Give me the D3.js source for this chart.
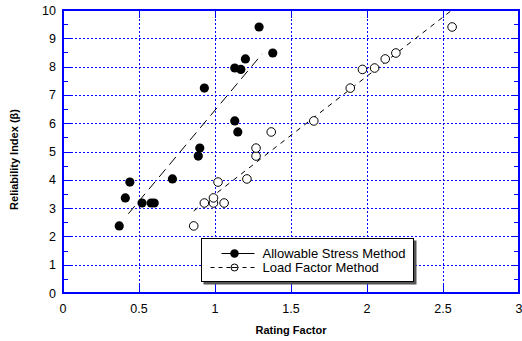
<!DOCTYPE html>
<html>
<head>
<meta charset="utf-8">
<script src="https://cdn.jsdelivr.net/npm/d3@7"></script>
<style>
  body { margin: 0; background: #fff; }
  svg { display: block; font-family: Arial, "Liberation Sans", sans-serif; }
  .tick-label { font-size: 12.5px; fill: #000; }
  .axis-title { font-size: 11px; font-weight: bold; fill: #000; }
  .legend-text { font-size: 13px; fill: #000; }
</style>
</head>
<body>
<div id="chart"></div>
<script>
// Allowable Stress Method (filled)
var asmX = [0.37, 0.41, 0.44, 0.52, 0.58, 0.60, 0.72, 0.89, 0.90, 0.93, 1.13, 1.15, 1.13, 1.17, 1.20, 1.29, 1.38];
var asmY = [2.37, 3.36, 3.92, 3.18, 3.18, 3.18, 4.03, 4.84, 5.12, 7.24, 6.08, 5.69, 7.95, 7.90, 8.27, 9.40, 8.48];

// Load Factor Method (open)
var lfmX = [0.86, 0.93, 0.99, 0.99, 1.02, 1.06, 1.21, 1.27, 1.27, 1.37, 1.65, 1.89, 1.97, 2.05, 2.12, 2.19, 2.56];
var lfmY = [2.37, 3.18, 3.18, 3.36, 3.92, 3.18, 4.03, 4.84, 5.12, 5.69, 6.08, 7.24, 7.90, 7.95, 8.27, 8.48, 9.40];

// trend line end points
var asmLineX = [0.43, 1.31];
var asmLineY = [2.80, 8.45];
var lfmLineX = [0.86, 2.56];
var lfmLineY = [2.90, 10.0];

var xTicks = [0, 0.5, 1, 1.5, 2, 2.5, 3];
var xTickLabels = ['0', '0.5', '1', '1.5', '2', '2.5', '3'];
var yTicks = [0, 1, 2, 3, 4, 5, 6, 7, 8, 9, 10];
var legendLabels = ['Allowable Stress Method', 'Load Factor Method'];

var width = 522, height = 341;
var margin = {left: 63, right: 3, top: 10, bottom: 48};
var plotW = width - margin.left - margin.right,
    plotH = height - margin.top - margin.bottom;

var svg = d3.select('#chart').append('svg')
  .attr('width', width)
  .attr('height', height);

var x = d3.scaleLinear().domain([0, 3]).range([margin.left, margin.left + plotW]);
var y = d3.scaleLinear().domain([0, 10]).range([margin.top + plotH, margin.top]);

// snap to pixel centres so thin lines stay crisp
function px(v) { return Math.round(v) + 0.5; }

var blue = '#0000ff';

// Grid
svg.selectAll('.vgrid').data(xTicks.slice(1, -1)).enter()
  .append('line')
  .attr('x1', function(d) { return px(x(d)); })
  .attr('x2', function(d) { return px(x(d)); })
  .attr('y1', y(0)).attr('y2', y(10))
  .attr('stroke', blue).attr('stroke-width', 1)
  .attr('stroke-dasharray', '2,2');

svg.selectAll('.hgrid').data(yTicks.slice(1, -1)).enter()
  .append('line')
  .attr('y1', function(d) { return px(y(d)); })
  .attr('y2', function(d) { return px(y(d)); })
  .attr('x1', x(0)).attr('x2', x(3))
  .attr('stroke', blue).attr('stroke-width', 1)
  .attr('stroke-dasharray', '2,2');

// Minor ticks (inward) on left and right
var minorY = d3.range(0.5, 10, 1);
svg.selectAll('.minL').data(minorY).enter()
  .append('line')
  .attr('x1', x(0)).attr('x2', x(0) + 5)
  .attr('y1', function(d) { return px(y(d)); })
  .attr('y2', function(d) { return px(y(d)); })
  .attr('stroke', blue).attr('stroke-width', 1);
svg.selectAll('.minR').data(minorY).enter()
  .append('line')
  .attr('x1', x(3)).attr('x2', x(3) - 5)
  .attr('y1', function(d) { return px(y(d)); })
  .attr('y2', function(d) { return px(y(d)); })
  .attr('stroke', blue).attr('stroke-width', 1);

// Major ticks (inward, solid)
svg.selectAll('.majL').data(yTicks).enter()
  .append('line')
  .attr('x1', x(0)).attr('x2', x(0) + 8)
  .attr('y1', function(d) { return px(y(d)); })
  .attr('y2', function(d) { return px(y(d)); })
  .attr('stroke', blue).attr('stroke-width', 1);
svg.selectAll('.majR').data(yTicks).enter()
  .append('line')
  .attr('x1', x(3)).attr('x2', x(3) - 8)
  .attr('y1', function(d) { return px(y(d)); })
  .attr('y2', function(d) { return px(y(d)); })
  .attr('stroke', blue).attr('stroke-width', 1);
svg.selectAll('.majB').data(xTicks).enter()
  .append('line')
  .attr('x1', function(d) { return px(x(d)); })
  .attr('x2', function(d) { return px(x(d)); })
  .attr('y1', y(0)).attr('y2', y(0) - 8)
  .attr('stroke', blue).attr('stroke-width', 1);
svg.selectAll('.majT').data(xTicks).enter()
  .append('line')
  .attr('x1', function(d) { return px(x(d)); })
  .attr('x2', function(d) { return px(x(d)); })
  .attr('y1', y(10)).attr('y2', y(10) + 8)
  .attr('stroke', blue).attr('stroke-width', 1);

// Frame
svg.append('rect')
  .attr('x', x(0)).attr('y', y(10))
  .attr('width', x(3) - x(0)).attr('height', y(0) - y(10))
  .attr('fill', 'none')
  .attr('stroke', blue).attr('stroke-width', 2);

// Tick labels
svg.selectAll('.xl').data(xTicks).enter()
  .append('text').attr('class', 'tick-label')
  .attr('x', function(d) { return x(d); })
  .attr('y', y(0) + 20)
  .attr('text-anchor', 'middle')
  .text(function(d, i) { return xTickLabels[i]; });

svg.selectAll('.yl').data(yTicks).enter()
  .append('text').attr('class', 'tick-label')
  .attr('x', x(0) - 7)
  .attr('y', function(d) { return y(d) + 4.5; })
  .attr('text-anchor', 'end')
  .text(function(d) { return d; });

// Axis titles
svg.append('text').attr('class', 'axis-title')
  .attr('x', x(1.5)).attr('y', 334)
  .attr('text-anchor', 'middle')
  .text('Rating Factor');

svg.append('text').attr('class', 'axis-title')
  .attr('transform', 'translate(18,' + (y(5) + 8) + ') rotate(-90)')
  .attr('text-anchor', 'middle')
  .text('Reliability Index (β)');

// Trend lines
svg.append('line')
  .attr('x1', x(asmLineX[0])).attr('y1', y(asmLineY[0]))
  .attr('x2', x(asmLineX[1])).attr('y2', y(asmLineY[1]))
  .attr('stroke', '#000').attr('stroke-width', 1)
  .attr('stroke-dasharray', '10,6');

svg.append('line')
  .attr('x1', x(lfmLineX[0])).attr('y1', y(lfmLineY[0]))
  .attr('x2', x(lfmLineX[1])).attr('y2', y(lfmLineY[1]))
  .attr('stroke', '#000').attr('stroke-width', 1)
  .attr('stroke-dasharray', '5,5');

// Points
svg.selectAll('.lfm').data(lfmX).enter()
  .append('circle')
  .attr('cx', function(d) { return x(d); })
  .attr('cy', function(d, i) { return y(lfmY[i]); })
  .attr('r', 4.3)
  .attr('fill', '#fff')
  .attr('stroke', '#000').attr('stroke-width', 1);

svg.selectAll('.asm').data(asmX).enter()
  .append('circle')
  .attr('cx', function(d) { return x(d); })
  .attr('cy', function(d, i) { return y(asmY[i]); })
  .attr('r', 4.6)
  .attr('fill', '#000');

// Legend
var lg = svg.append('g').attr('transform', 'translate(201.5,238.5)');
lg.append('rect')
  .attr('x', 2).attr('y', 2).attr('width', 213).attr('height', 44)
  .attr('fill', '#555');
lg.append('rect')
  .attr('x', 0).attr('y', 0).attr('width', 212).attr('height', 43)
  .attr('fill', '#fff').attr('stroke', '#000').attr('stroke-width', 1);

lg.append('line')
  .attr('x1', 20).attr('x2', 53).attr('y1', 15).attr('y2', 15)
  .attr('stroke', '#000').attr('stroke-width', 1);
lg.append('circle').attr('cx', 33).attr('cy', 15).attr('r', 4.3).attr('fill', '#000');

lg.append('line')
  .attr('x1', 9).attr('x2', 57).attr('y1', 29).attr('y2', 29)
  .attr('stroke', '#000').attr('stroke-width', 1)
  .attr('stroke-dasharray', '4,4');
lg.append('circle').attr('cx', 33).attr('cy', 29).attr('r', 3.5)
  .attr('fill', '#fff').attr('stroke', '#000').attr('stroke-width', 1);
lg.append('line')
  .attr('x1', 30).attr('x2', 36).attr('y1', 29).attr('y2', 29)
  .attr('stroke', '#000').attr('stroke-width', 1);

lg.selectAll('.lt').data(legendLabels).enter()
  .append('text').attr('class', 'legend-text')
  .attr('x', 61)
  .attr('y', function(d, i) { return 19.5 + i * 14; })
  .text(function(d) { return d; });
</script>
</body>
</html>
